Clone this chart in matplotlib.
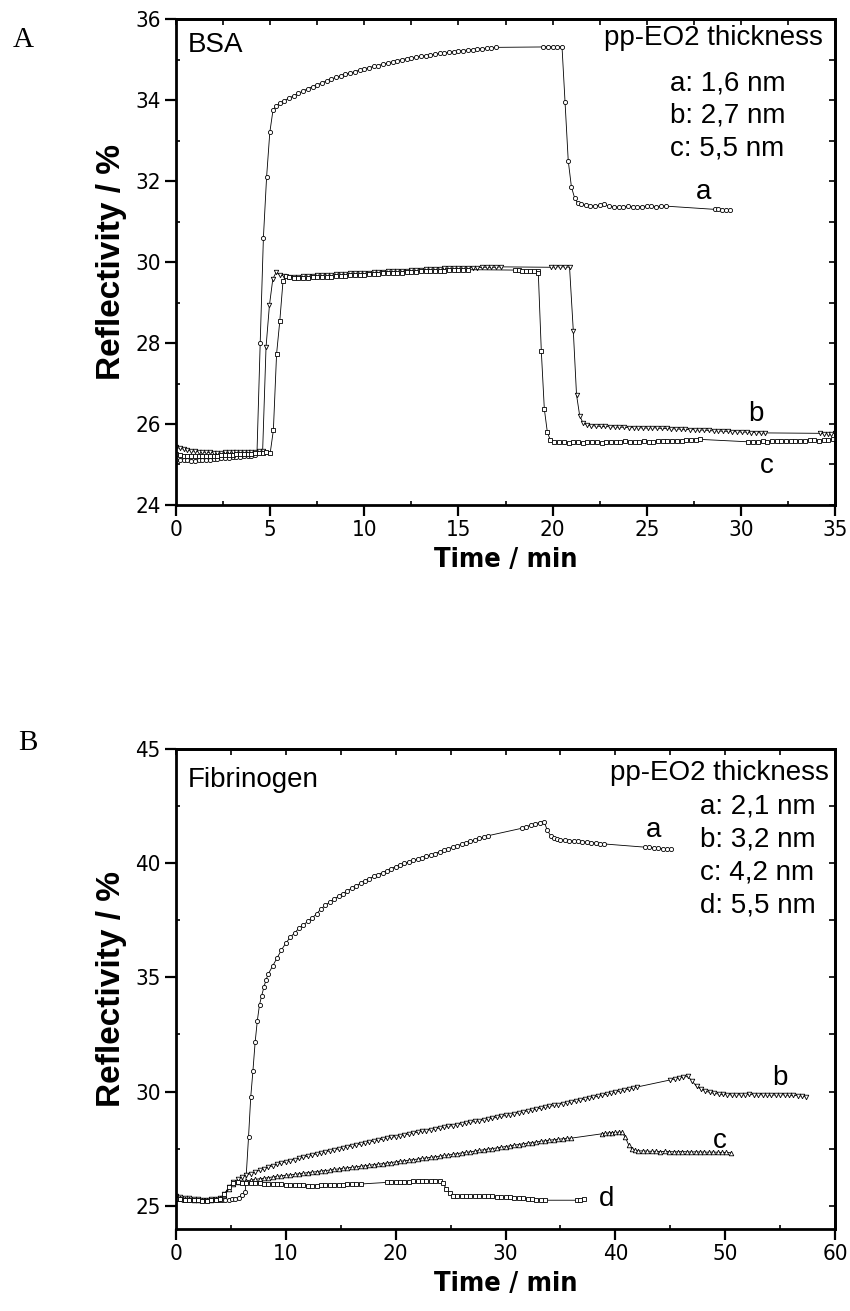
import numpy as np
import matplotlib
matplotlib.use("Agg")
import matplotlib.pyplot as plt
from matplotlib import font_manager as fm

# each curve is a list of sampled stretches: (start time, sampling step, reflectivity values)
# gaps between stretches are bridged by the connecting line only (no markers)

# ---- panel A: BSA ----
bsa_a = [
    (0.0, 0.2, [25.12, 25.11, 25.1, 25.1, 25.09, 25.09, 25.1, 25.1, 25.11, 25.12, 25.13,
                25.14, 25.15, 25.16, 25.17, 25.18, 25.19, 25.19, 25.2, 25.21, 25.22, 25.24]),
    (4.3, 0.17, [25.3, 28.0, 30.6, 32.1, 33.2, 33.75, 33.85]),
    (5.5, 0.25, [33.92, 33.98, 34.05, 34.1, 34.17, 34.22, 34.28, 34.33, 34.37, 34.43,
                 34.47, 34.52, 34.56, 34.6, 34.64, 34.67, 34.7, 34.74, 34.77, 34.8,
                 34.83, 34.85, 34.89, 34.91, 34.95, 34.97, 35.0, 35.02, 35.04, 35.06,
                 35.08, 35.09, 35.12, 35.13, 35.15, 35.16, 35.18, 35.19, 35.21, 35.22,
                 35.24, 35.24, 35.26, 35.27, 35.28, 35.29, 35.3]),
    (19.5, 0.25, [35.31, 35.32, 35.31, 35.32, 35.31]),
    (20.66, 0.17, [33.95, 32.5, 31.85, 31.58, 31.45]),
    (21.5, 0.25, [31.42, 31.4, 31.39, 31.38, 31.4, 31.42, 31.38, 31.36, 31.35, 31.36,
                  31.38, 31.36, 31.35, 31.37, 31.38, 31.38, 31.37, 31.38, 31.38]),
    (28.6, 0.2, [31.3, 31.3, 31.29, 31.28, 31.28]),
]
bsa_b = [
    (0.0, 0.2, [25.42, 25.4, 25.38, 25.36, 25.34, 25.33, 25.32, 25.31, 25.3, 25.3, 25.29,
                25.29, 25.29, 25.3, 25.3, 25.31, 25.31, 25.31, 25.31, 25.32, 25.32, 25.32,
                25.33, 25.34]),
    (4.78, 0.18, [27.9, 28.93, 29.58, 29.75]),
    (5.5, 0.25, [29.68, 29.66, 29.64, 29.63, 29.64, 29.65, 29.66, 29.66, 29.67, 29.68,
                 29.69, 29.69, 29.7, 29.71, 29.71, 29.72, 29.73, 29.73, 29.74, 29.74,
                 29.75, 29.76, 29.76, 29.77, 29.77, 29.78, 29.79, 29.79, 29.8, 29.8,
                 29.81, 29.82, 29.82, 29.83, 29.83, 29.84, 29.84, 29.85, 29.85, 29.85,
                 29.86, 29.86, 29.86, 29.87, 29.87, 29.87, 29.87, 29.88]),
    (19.9, 0.25, [29.87, 29.88, 29.88, 29.88, 29.87]),
    (21.1, 0.17, [28.29, 26.72, 26.2, 26.03]),
    (21.8, 0.25, [25.98, 25.96, 25.95, 25.94, 25.94, 25.93, 25.93, 25.92, 25.92, 25.91,
                  25.91, 25.91, 25.9, 25.9, 25.91, 25.9, 25.89, 25.89, 25.88, 25.88,
                  25.87, 25.87, 25.86, 25.86, 25.85, 25.85, 25.84, 25.83, 25.83, 25.82,
                  25.82, 25.81, 25.81, 25.8, 25.8, 25.79, 25.79, 25.78, 25.78]),
    (34.2, 0.2, [25.77, 25.76, 25.76, 25.76, 25.77]),
]
bsa_c = [
    (0.0, 0.2, [25.26, 25.24, 25.22, 25.21, 25.2, 25.2, 25.2, 25.2, 25.21, 25.21, 25.22,
                25.22, 25.23, 25.23, 25.24, 25.24, 25.25, 25.25, 25.26, 25.26, 25.27,
                25.28, 25.28, 25.29, 25.3]),
    (5.0, 0.17, [25.28, 25.85, 27.73, 28.54, 29.52, 29.65]),
    (6.0, 0.25, [29.62, 29.61, 29.6, 29.6, 29.61, 29.62, 29.62, 29.63, 29.64, 29.64,
                 29.65, 29.66, 29.66, 29.67, 29.68, 29.68, 29.69, 29.7, 29.7, 29.71,
                 29.72, 29.72, 29.73, 29.74, 29.74, 29.75, 29.76, 29.76, 29.77, 29.77,
                 29.78, 29.78, 29.79, 29.79, 29.8, 29.8, 29.8, 29.81, 29.81]),
    (18.0, 0.2, [29.8, 29.8, 29.79, 29.79, 29.78, 29.78, 29.78]),
    (19.24, 0.16, [29.73, 27.8, 26.37, 25.8, 25.6]),
    (20.1, 0.25, [25.56, 25.55, 25.55, 25.54, 25.55, 25.55, 25.54, 25.55, 25.56, 25.55,
                  25.54, 25.55, 25.56, 25.55, 25.55, 25.57, 25.56, 25.55, 25.56, 25.57,
                  25.56, 25.56, 25.57, 25.58, 25.57, 25.58, 25.59, 25.58, 25.6, 25.6,
                  25.61, 25.62]),
    (30.4, 0.25, [25.56, 25.55, 25.56, 25.57, 25.56, 25.57, 25.58, 25.57, 25.58, 25.58,
                  25.59, 25.58, 25.59, 25.6, 25.6, 25.59, 25.6, 25.61, 25.62]),
]
bsa_labels = ["a: 1,6 nm", "b: 2,7 nm", "c: 5,5 nm"]

# ---- panel B: fibrinogen ----
fib_a = [
    (0.0, 0.3, [25.3, 25.28, 25.27, 25.26, 25.25, 25.25, 25.24, 25.24, 25.24, 25.24, 25.25,
                25.25, 25.25, 25.25, 25.26, 25.26, 25.27, 25.28, 25.3, 25.35, 25.45, 25.6]),
    (6.6, 0.2, [28.0, 29.75, 30.9, 32.15, 33.1, 33.8, 34.2, 34.57, 34.9]),
    (8.4, 0.4, [35.15, 35.5, 35.85, 36.2, 36.5, 36.75, 36.95, 37.15, 37.3, 37.45,
                37.6, 37.78, 38.0, 38.15, 38.3, 38.43, 38.55, 38.67, 38.79, 38.9,
                39.0, 39.12, 39.22, 39.32, 39.42, 39.5, 39.58, 39.67, 39.76, 39.85,
                39.92, 39.99, 40.05, 40.12, 40.18, 40.24, 40.3, 40.35, 40.42, 40.5,
                40.56, 40.63, 40.7, 40.76, 40.83, 40.9, 40.96, 41.02, 41.08, 41.14, 41.2]),
    (31.5, 0.4, [41.53, 41.6, 41.66, 41.72, 41.78, 41.82]),
    (33.8, 0.3, [41.45, 41.2, 41.08, 41.04, 41.02]),
    (35.4, 0.4, [41.0, 40.98, 40.96, 40.95, 40.93, 40.92, 40.9, 40.88, 40.86, 40.84]),
    (42.7, 0.4, [40.7, 40.69, 40.67, 40.66, 40.64, 40.63, 40.61]),
]
fib_b = [
    (0.0, 0.4, [25.42, 25.38, 25.35, 25.32, 25.3, 25.28, 25.27, 25.27, 25.28, 25.3, 25.35]),
    (4.4, 0.4, [25.5, 25.8, 26.02, 26.15, 26.25, 26.33, 26.41, 26.48, 26.55, 26.62,
                26.68, 26.75, 26.81, 26.87, 26.92, 26.97, 27.02, 27.07, 27.12, 27.17,
                27.22, 27.27, 27.31, 27.36, 27.4, 27.45, 27.49, 27.53, 27.58, 27.62,
                27.66, 27.7, 27.74, 27.79, 27.83, 27.87, 27.91, 27.95, 27.99, 28.03,
                28.07, 28.1, 28.14, 28.18, 28.22, 28.26, 28.29, 28.33, 28.37, 28.4,
                28.44, 28.47, 28.51, 28.55, 28.58, 28.62, 28.65, 28.69, 28.72, 28.76,
                28.8, 28.83, 28.87, 28.91, 28.95, 28.99, 29.03, 29.07, 29.11, 29.15,
                29.19, 29.23, 29.27, 29.31, 29.35, 29.39, 29.43, 29.47, 29.51, 29.55,
                29.59, 29.63, 29.67, 29.71, 29.75, 29.79, 29.84, 29.88, 29.93, 29.97,
                30.01, 30.06, 30.1, 30.15, 30.2]),
    (45.0, 0.4, [30.51, 30.55, 30.59, 30.63, 30.66]),
    (47.0, 0.4, [30.45, 30.22, 30.1, 30.02, 29.96, 29.92, 29.89, 29.87]),
    (50.2, 0.4, [29.86, 29.85, 29.86, 29.85, 29.86, 29.87, 29.86, 29.85, 29.86, 29.85,
                 29.84, 29.85, 29.86, 29.85, 29.84, 29.83, 29.82, 29.8, 29.78]),
]
fib_c = [
    (0.0, 0.4, [25.35, 25.32, 25.3, 25.28, 25.26, 25.25, 25.25, 25.25, 25.26, 25.28, 25.32]),
    (4.4, 0.4, [25.45, 25.75, 25.95, 26.02, 26.06, 26.09, 26.12, 26.15, 26.18, 26.2,
                26.23, 26.26, 26.28, 26.31, 26.33, 26.35, 26.37, 26.4, 26.42, 26.45,
                26.47, 26.49, 26.52, 26.54, 26.56, 26.59, 26.61, 26.63, 26.66, 26.68,
                26.7, 26.73, 26.75, 26.77, 26.8, 26.82, 26.84, 26.87, 26.89, 26.92,
                26.94, 26.97, 26.99, 27.02, 27.04, 27.07, 27.09, 27.12, 27.14, 27.17,
                27.2, 27.22, 27.25, 27.28, 27.31, 27.33, 27.36, 27.39, 27.42, 27.45,
                27.48, 27.5, 27.53, 27.56, 27.59, 27.62, 27.65, 27.68, 27.71, 27.74,
                27.76, 27.79, 27.82, 27.84, 27.87, 27.89, 27.91, 27.93, 27.95, 27.96]),
    (38.8, 0.3, [28.15, 28.17, 28.19, 28.2, 28.21, 28.22, 28.21]),
    (40.9, 0.3, [28.0, 27.67, 27.5, 27.42, 27.4]),
    (42.5, 0.4, [27.4, 27.39, 27.38, 27.38, 27.37, 27.38, 27.37, 27.36, 27.36, 27.37,
                 27.36, 27.35, 27.36, 27.35, 27.35, 27.34, 27.35, 27.34, 27.33, 27.33, 27.32]),
]
fib_d = [
    (0.0, 0.4, [25.3, 25.28, 25.27, 25.25, 25.24, 25.23, 25.22, 25.22, 25.23, 25.25, 25.3]),
    (4.4, 0.4, [25.5, 25.8, 26.0, 26.02, 26.01, 26.0, 26.0, 25.99, 25.98, 25.97,
                25.96, 25.95, 25.94, 25.93, 25.92, 25.91, 25.9, 25.9, 25.89, 25.88,
                25.88, 25.88, 25.89, 25.89, 25.9, 25.91, 25.92, 25.92, 25.93, 25.94,
                25.95, 25.95]),
    (19.2, 0.4, [26.02, 26.03, 26.03, 26.04, 26.05, 26.05, 26.06, 26.06, 26.07, 26.07,
                 26.08, 26.09, 26.1]),
    (24.3, 0.3, [25.98, 25.75, 25.55, 25.43]),
    (25.6, 0.4, [25.42, 25.42, 25.41, 25.42, 25.42, 25.41, 25.41, 25.42, 25.41, 25.4,
                 25.39, 25.38, 25.36, 25.35, 25.33, 25.32, 25.3, 25.28, 25.27, 25.26, 25.24]),
    (36.5, 0.3, [25.24, 25.26, 25.29]),
]
fib_labels = ["a: 2,1 nm", "b: 3,2 nm", "c: 4,2 nm", "d: 5,5 nm"]

SANS = ["Liberation Sans", "DejaVu Sans"]
SERIF = ["Liberation Serif", "DejaVu Serif"]

# tick labels in the original are a condensed sans; use one if the box has it
_fonts = fm.fontManager.ttflist
if any(f.name == "Liberation Sans Narrow" for f in _fonts):
    NARROW, STRETCH, TICK_FS, XLAB_FS = ["Liberation Sans Narrow", "DejaVu Sans"], "normal", 17, 22
elif any(f.name == "DejaVu Sans" and str(f.stretch) == "condensed" for f in _fonts):
    NARROW, STRETCH, TICK_FS, XLAB_FS = ["DejaVu Sans"], "condensed", 16, 19.5
else:
    NARROW, STRETCH, TICK_FS, XLAB_FS = SANS, "normal", 16, 20


def build(segs):
    t, y = [], []
    for t0, dt, vals in segs:
        t.extend(t0 + dt * np.arange(len(vals)))
        y.extend(vals)
    return np.array(t), np.array(y)


def curve(ax, segs, marker, ms):
    t, y = build(segs)
    ax.plot(t, y, "-", color="black", lw=0.6, marker=marker, ms=ms,
            mfc="white", mec="black", mew=0.6)


def style(ax, xmax, xmaj, xmin, ymin, ymax, ymaj, ystep):
    ax.set_xlim(0, xmax)
    ax.set_ylim(ymin, ymax)
    ax.set_xticks(np.arange(0, xmax + 0.01, xmaj))
    ax.set_xticks(np.arange(0, xmax + 0.01, xmin), minor=True)
    ax.set_yticks(np.arange(np.ceil(ymin / ymaj) * ymaj, ymax + 0.01, ymaj))
    ax.set_yticks(np.arange(np.ceil(ymin / ystep) * ystep, ymax + 0.01, ystep), minor=True)
    for s in ax.spines.values():
        s.set_linewidth(2.0)
    ax.tick_params(which="major", direction="out", length=8, width=1.6,
                   labelsize=TICK_FS, pad=3)
    ax.tick_params(which="minor", direction="in", length=3, width=1.2)
    for lab in ax.get_xticklabels() + ax.get_yticklabels():
        lab.set_fontfamily(NARROW)
        lab.set_fontstretch(STRETCH)
    # mirrored ticks on top / right, pointing inwards, no labels
    top = ax.secondary_xaxis("top")
    top.set_xticks(np.arange(0, xmax + 0.01, xmin))
    top.tick_params(direction="in", length=4, width=1.2, labeltop=False)
    right = ax.secondary_yaxis("right")
    right.set_yticks(np.arange(np.ceil(ymin / ystep) * ystep, ymax + 0.01, ystep))
    right.tick_params(direction="in", length=4, width=1.2, labelright=False)
    for sec in (top, right):
        for s in sec.spines.values():
            s.set_linewidth(2.0)
    ax.set_xlabel("Time / min", fontsize=XLAB_FS, fontweight="bold", family=NARROW,
                  fontstretch=STRETCH, labelpad=5)
    ax.set_ylabel("Reflectivity / %", fontsize=24, fontweight="bold", family=SANS,
                  labelpad=6)


fig = plt.figure(figsize=(8.5, 13.11), dpi=100)

# panel A
axA = fig.add_axes([0.2071, 0.6148, 0.7753, 0.3707])
curve(axA, bsa_a, "o", 3.0)
curve(axA, bsa_b, "v", 3.2)
curve(axA, bsa_c, "s", 2.8)
style(axA, 35, 5, 2.5, 24, 36, 2, 1)
axA.text(0.018, 0.946, "BSA", transform=axA.transAxes, fontsize=20, family=SANS,
         ha="left", va="center")
axA.text(0.982, 0.961, "pp-EO2 thickness", transform=axA.transAxes, fontsize=20,
         family=SANS, ha="right", va="center")
for i, s in enumerate(bsa_labels):
    axA.text(0.750, 0.868 - i * 0.0675, s, transform=axA.transAxes, fontsize=20,
             family=SANS, ha="left", va="center")
axA.text(28.0, 31.74, "a", fontsize=20, family=SANS, ha="center", va="center")
axA.text(30.8, 26.24, "b", fontsize=20, family=SANS, ha="center", va="center")
axA.text(31.4, 24.96, "c", fontsize=20, family=SANS, ha="center", va="center")
fig.text(23 / 850, 1 - 40 / 1311, "A", fontsize=21, family=SERIF, ha="center", va="center")

# panel B
axB = fig.add_axes([0.2071, 0.0629, 0.7753, 0.3658])
curve(axB, fib_a, "o", 3.0)
curve(axB, fib_b, "v", 3.3)
curve(axB, fib_c, "^", 3.3)
curve(axB, fib_d, "s", 2.9)
style(axB, 60, 10, 5, 24, 45, 5, 2.5)
axB.text(0.018, 0.935, "Fibrinogen", transform=axB.transAxes, fontsize=20, family=SANS,
         ha="left", va="center")
axB.text(0.99, 0.950, "pp-EO2 thickness", transform=axB.transAxes, fontsize=20,
         family=SANS, ha="right", va="center")
for i, s in enumerate(fib_labels):
    axB.text(0.795, 0.881 - i * 0.069, s, transform=axB.transAxes, fontsize=20,
             family=SANS, ha="left", va="center")
axB.text(43.5, 41.45, "a", fontsize=20, family=SANS, ha="center", va="center")
axB.text(55.0, 30.6, "b", fontsize=20, family=SANS, ha="center", va="center")
axB.text(49.5, 27.83, "c", fontsize=20, family=SANS, ha="center", va="center")
axB.text(39.2, 25.28, "d", fontsize=20, family=SANS, ha="center", va="center")
fig.text(28 / 850, 1 - 743 / 1311, "B", fontsize=21, family=SERIF, ha="center", va="center")

fig.savefig("out.png", dpi=100)
